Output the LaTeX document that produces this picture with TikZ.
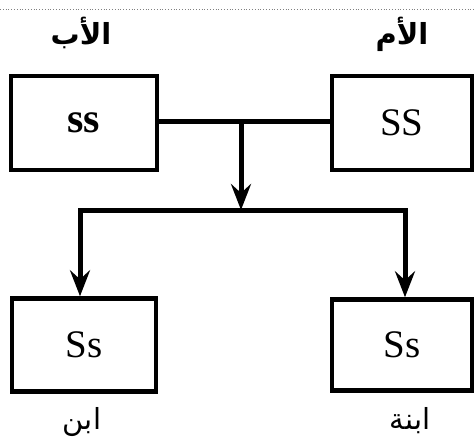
\documentclass[tikz,border=0pt]{standalone}
\usepackage{fontspec}
\setmainfont{Liberation Serif}
\newfontfamily\arabicfont[Script=Arabic]{DejaVu Sans}
\TeXXeTstate=1
\usetikzlibrary{arrows.meta}
\begin{document}
\begin{tikzpicture}[x=1pt,y=-1pt,
  box/.style={draw, line width=4.5pt, minimum height=94pt, inner sep=0pt,
    font=\fontsize{39}{44}\selectfont},
  conn/.style={line width=5pt},
  arr/.style={conn, -{Stealth[length=26pt,width=20pt,inset=9pt]}},
  lab/.style={font=\arabicfont\fontsize{29}{34}\selectfont},
  labb/.style={font=\arabicfont\bfseries\fontsize{29}{34}\selectfont}]
\useasboundingbox (0,0) rectangle (475,440);
\draw[gray, dotted, line width=0.8pt] (0,9) -- (475,9);
\node[box, minimum width=146pt, font=\bfseries\fontsize{42}{46}\selectfont] (fa) at (84,123) {ss};
\node[box, minimum width=140pt] (mo) at (402,123) {SS};
\node[box, minimum width=144pt, minimum height=93pt] (son) at (84,345) {Ss};
\node[box, minimum width=140pt, minimum height=91pt] (da) at (402,345) {Ss};
\node[labb] (lfa) at (81,33) {\beginR الأب\endR};
\node[labb] (lmo) at (402,34) {\beginR الأم\endR};
\node[lab] (lson) at (82,422) {\beginR ابن\endR};
\node[lab] (lda) at (410,421) {\beginR ابنة\endR};
\coordinate (j) at (241,121);
\coordinate (b) at (241,210);
\coordinate (bl) at (80,210);
\coordinate (br) at (405,210);
\draw[conn] (fa.east |- j) -- (mo.west |- j);
\draw[arr] (j) -- (b);
\draw[conn, line cap=rect] (bl) -- (br);
\draw[arr] (bl) -- (bl |- son.north);
\draw[arr] (br) -- (br |- da.north);
\end{tikzpicture}
\end{document}
